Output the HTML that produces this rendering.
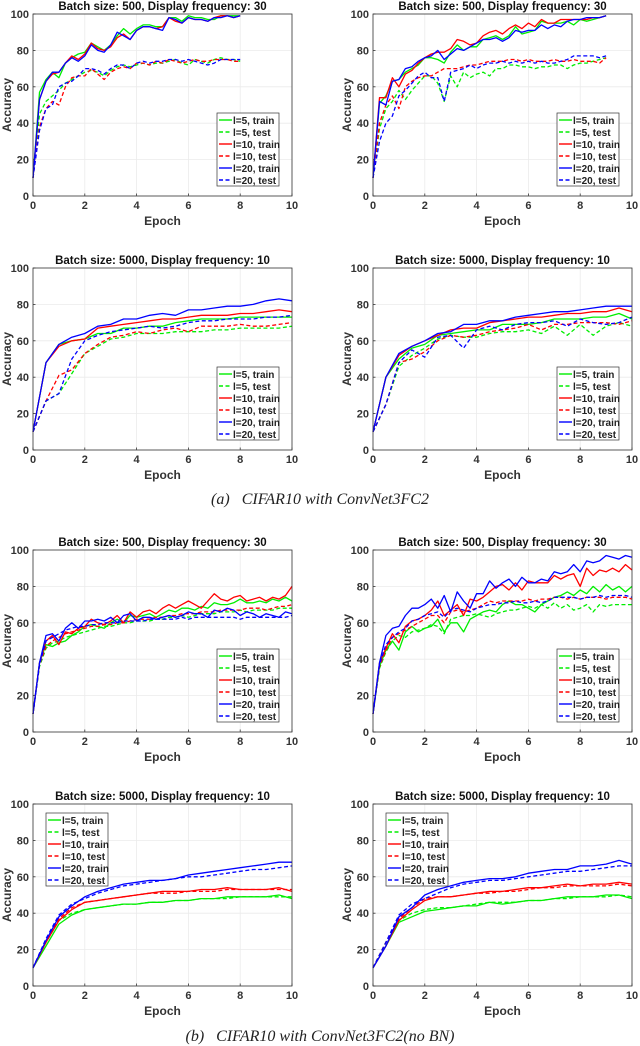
<!DOCTYPE html>
<html><head><meta charset="utf-8"><style>
body{margin:0;background:#fff}
svg{display:block}
text{font-family:"Liberation Sans",sans-serif}
text.cap{font-family:"Liberation Serif",serif;font-style:italic}
</style></head><body>
<svg id="fig" width="640" height="1046" viewBox="0 0 640 1046" xmlns="http://www.w3.org/2000/svg">
<text class="cap" x="320" y="504" text-anchor="middle" font-size="16" fill="#222" xml:space="preserve">(a)   CIFAR10 with ConvNet3FC2</text>
<text class="cap" x="320" y="1041" text-anchor="middle" font-size="16" fill="#222" xml:space="preserve">(b)   CIFAR10 with ConvNet3FC2(no BN)</text>
</svg>
<script>
// ---- data ----
const seriesNames = ["l=5, train","l=5, test","l=10, train","l=10, test","l=20, train","l=20, test"];
const yTicks = [0,20,40,60,80,100];
const xTicks = [0,2,4,6,8,10];
const titleA = "Batch size: 500, Display frequency: 30";
const titleB = "Batch size: 5000, Display frequency: 10";

const aStep = 0.25;
const aG = [10,57,64,68,65,73,76,78,79,84,82,80,83,88,92,89,92,94,94,93,93,98,98,96,99,98,98,97,97,99,99,99,99];
const aGt = [10,45,52,55,58,62,64,66,68,69,68,66,69,71,72,71,72,73,72,73,73,74,75,73,72,75,74,73,75,76,75,75,74];
const aR = [10,53,63,67,68,73,77,75,78,84,81,80,82,87,89,86,91,93,93,92,93,98,96,95,98,97,97,96,98,99,99,98,99];
const aRt = [10,38,48,52,50,60,65,66,66,70,67,64,68,70,71,70,73,73,72,74,73,75,74,73,74,75,74,74,75,75,75,74,74];
const aB = [10,53,63,68,68,73,76,74,77,83,80,79,83,90,88,86,91,93,93,92,91,98,97,95,98,97,97,96,98,98,99,98,99];
const aBt = [10,36,48,50,60,62,63,66,70,70,69,67,70,72,72,70,73,74,73,74,74,75,75,74,75,74,73,72,73,75,75,75,75];

const bStep = 0.25;
const bG = [10,51,55,63,64,68,70,72,76,76,75,73,79,83,80,82,82,86,87,88,86,88,93,89,90,91,96,95,95,95,96,94,97,96,97,98,99];
const bGt = [10,37,48,52,58,53,58,62,66,66,62,52,66,60,68,65,67,68,66,70,70,72,72,71,71,70,71,71,72,72,70,72,73,73,74,75,76];
const bR = [10,54,54,65,60,67,69,73,76,78,79,79,81,86,85,83,84,88,90,91,89,92,94,92,95,93,97,95,95,97,97,97,97,97,98,98,99];
const bRt = [10,40,50,55,48,60,63,65,66,66,68,70,70,70,71,72,72,73,74,74,74,75,75,74,75,74,74,74,75,74,74,75,74,74,74,73,76];
const bB = [10,52,50,63,64,70,71,74,76,77,80,75,78,81,80,82,84,86,86,87,85,87,91,90,91,91,94,92,94,93,96,97,97,98,98,98,99];
const bBt = [10,30,40,44,55,58,62,66,68,65,65,52,68,69,70,72,70,72,73,73,74,73,74,73,74,73,74,73,73,74,75,77,77,77,77,76,77];

const cStep = 0.5;
const cG = [10,48,58,60,61,64,64,67,67,68,68,70,71,72,72,72,73,73,73,73,73];
const cGt = [10,27,31,42,53,57,61,62,64,64,64,65,65,65,66,66,67,67,67,67,68];
const cR = [10,48,57,60,61,67,68,69,70,71,72,72,73,74,74,74,75,75,76,77,76];
const cRt = [10,27,41,44,53,58,62,63,65,64,66,67,65,68,68,68,69,68,68,69,70];
const cB = [10,48,58,62,64,68,69,72,72,74,75,74,77,77,78,79,79,80,82,83,82];
const cBt = [10,27,31,50,60,63,65,66,67,68,67,68,70,71,71,72,72,72,73,73,74];

const dStep = 0.5;
const dG = [10,40,50,56,58,63,64,65,66,66,69,69,69,70,72,72,72,73,73,75,72];
const dGt = [10,25,46,52,56,61,63,62,62,64,65,65,66,64,68,63,69,63,68,70,68];
const dR = [10,40,52,57,60,63,66,67,67,70,71,72,73,73,74,75,75,76,76,78,76];
const dRt = [10,25,48,50,54,60,63,62,63,65,66,67,69,66,69,69,70,70,70,69,71];
const dB = [10,40,53,57,60,64,65,69,69,71,71,73,74,75,76,76,77,78,79,79,79];
const dBt = [10,25,48,55,51,62,63,56,66,68,66,69,70,70,71,68,72,70,69,70,73];

const eStep = 0.25;
const eG = [10,38,48,47,49,50,53,55,58,59,58,57,60,62,60,64,63,64,65,63,65,67,66,68,68,67,69,68,71,70,70,71,73,71,71,72,71,73,72,74,72];
const eGt = [10,36,46,49,50,52,53,54,55,56,57,58,58,59,60,60,61,61,61,62,62,63,63,64,63,64,65,65,65,66,66,66,67,66,67,67,67,67,68,68,68];
const eR = [10,38,50,53,48,55,54,57,58,62,60,59,61,64,60,66,63,66,67,65,68,70,68,70,72,70,68,72,76,73,72,74,75,72,73,74,72,74,73,75,80];
const eRt = [10,37,47,50,52,54,55,56,57,58,58,59,59,60,60,61,62,62,62,63,63,64,64,65,65,65,66,66,66,67,67,67,67,68,68,68,67,68,69,69,70];
const eB = [10,38,53,54,50,57,60,57,61,61,62,61,63,60,64,65,61,63,63,62,63,64,63,64,66,65,65,63,67,66,68,67,64,66,65,63,65,64,63,66,65];
const eBt = [10,37,50,52,54,56,57,58,58,59,59,60,60,60,61,61,61,61,62,62,62,62,62,63,62,63,63,63,63,63,63,63,62,63,63,63,63,63,63,63,64];

const fStep = 0.25;
const fG = [10,36,45,50,45,55,58,55,57,58,62,55,60,60,55,62,64,66,67,66,70,72,70,70,68,66,70,72,74,75,77,75,78,76,80,77,81,78,80,77,80];
const fGt = [10,35,44,50,53,52,55,56,57,59,58,54,62,63,64,64,65,64,63,65,66,67,67,68,69,68,70,68,71,68,70,67,68,70,66,70,69,70,70,70,70];
const fR = [10,38,46,54,49,58,61,62,64,67,72,64,67,70,64,73,72,74,77,80,81,78,82,78,83,82,82,82,86,84,86,87,80,90,86,89,88,90,88,92,89];
const fRt = [10,36,45,52,54,56,58,60,62,64,64,60,66,67,66,67,68,70,72,71,72,72,72,72,73,72,73,73,74,74,73,74,73,74,74,74,73,74,74,74,73];
const fB = [10,38,53,57,58,64,68,68,70,73,68,75,66,77,72,68,76,76,83,79,82,84,80,85,82,82,84,83,88,87,88,92,88,94,93,94,97,96,95,97,96];
const fBt = [10,37,48,52,55,57,61,62,64,65,66,63,67,68,67,66,68,69,70,70,71,71,72,71,71,72,71,72,74,74,74,74,73,74,74,75,74,75,75,75,74];

const gStep = 0.5;
const gG = [10,22,34,39,42,43,44,45,45,46,46,47,47,48,48,49,49,49,49,50,48];
const gGt = [10,24,36,40,42,43,44,45,45,46,46,47,47,48,48,48,49,49,49,49,49];
const gR = [10,24,36,42,46,47,48,49,50,51,52,52,52,53,53,54,53,53,53,54,52];
const gRt = [10,25,37,43,46,47,48,49,50,51,51,51,52,52,52,53,53,53,53,53,53];
const gB = [10,25,38,44,49,52,54,56,57,58,58,59,61,62,63,64,65,66,67,68,68];
const gBt = [10,26,39,45,48,51,53,55,56,57,58,59,60,60,61,62,63,64,64,65,66];

const hStep = 0.5;
const hG = [10,22,35,38,41,42,43,44,44,46,45,46,47,47,48,49,49,49,50,50,48];
const hGt = [10,24,36,40,42,43,43,44,45,46,46,46,47,47,48,48,49,49,49,50,49];
const hR = [10,22,36,42,47,49,49,50,51,52,52,53,54,54,55,56,55,56,56,57,56];
const hRt = [10,24,37,43,48,49,49,50,51,51,52,52,53,54,54,55,55,55,55,56,55];
const hB = [10,22,38,43,50,53,55,57,58,59,59,60,62,63,64,64,66,66,67,69,67];
const hBt = [10,24,39,45,48,51,54,56,57,58,58,59,60,61,62,63,63,64,65,66,66];

// ---- drawing ----
const NS = "http://www.w3.org/2000/svg";
const svg = document.getElementById("fig");
const colors = ["#00ee00","#00ee00","#ff0000","#ff0000","#0000ff","#0000ff"];
function mk(tag, attrs, parent){
  const e = document.createElementNS(NS, tag);
  for (const k in attrs) e.setAttribute(k, attrs[k]);
  (parent||svg).appendChild(e);
  return e;
}
const W = 259, H = 182;
const panels = [
  {id:"a", x0:33, y0:14, title:titleA, step:aStep, s:[aG,aGt,aR,aRt,aB,aBt], leg:"br"},
  {id:"b", x0:373, y0:14, title:titleA, step:bStep, s:[bG,bGt,bR,bRt,bB,bBt], leg:"br"},
  {id:"c", x0:33, y0:268, title:titleB, step:cStep, s:[cG,cGt,cR,cRt,cB,cBt], leg:"br"},
  {id:"d", x0:373, y0:268, title:titleB, step:dStep, s:[dG,dGt,dR,dRt,dB,dBt], leg:"br"},
  {id:"e", x0:33, y0:550, title:titleA, step:eStep, s:[eG,eGt,eR,eRt,eB,eBt], leg:"br"},
  {id:"f", x0:373, y0:550, title:titleA, step:fStep, s:[fG,fGt,fR,fRt,fB,fBt], leg:"br"},
  {id:"g", x0:33, y0:804, title:titleB, step:gStep, s:[gG,gGt,gR,gRt,gB,gBt], leg:"tl"},
  {id:"h", x0:373, y0:804, title:titleB, step:hStep, s:[hG,hGt,hR,hRt,hB,hBt], leg:"tl"}
];
panels.forEach(p => {
  const g = mk("g", {});
  
  
  const xs = v => p.x0 + v / 10 * W;
  const ys = v => p.y0 + H - v / 100 * H;
  xTicks.forEach(t => {
    const l = mk("line", {x1:xs(t), x2:xs(t), y1:p.y0, y2:p.y0+H, stroke:"#ebebeb", "stroke-width":0.8}, g);
    
    
    const tx = mk("text", {x:xs(t), y:p.y0+H+13, "text-anchor":"middle", "font-size":11, "font-weight":"bold", fill:"#333"}, g);
    tx.textContent = t;
    
    
    mk("line", {x1:xs(t), x2:xs(t), y1:p.y0+H, y2:p.y0+H-2.5, stroke:"#333", "stroke-width":0.8}, g);
  });
  yTicks.forEach(t => {
    const l = mk("line", {x1:p.x0, x2:p.x0+W, y1:ys(t), y2:ys(t), stroke:"#ebebeb", "stroke-width":0.8}, g);
    
    
    const tx = mk("text", {x:p.x0-4, y:ys(t)+4, "text-anchor":"end", "font-size":11, "font-weight":"bold", fill:"#333"}, g);
    tx.textContent = t;
    
    
    mk("line", {x1:p.x0, x2:p.x0+2.5, y1:ys(t), y2:ys(t), stroke:"#333", "stroke-width":0.8}, g);
  });
  p.s.forEach((arr, i) => {
    const pts = arr.map((v, k) => xs(k * p.step).toFixed(1) + "," + ys(v).toFixed(1)).join(" ");
    const attrs = {points:pts, fill:"none", stroke:colors[i], "stroke-width":1.3, "stroke-linejoin":"round"};
    if (i % 2 === 1) attrs["stroke-dasharray"] = "4,2.5";
    const pl = mk("polyline", attrs, g);
    
    
  });
  const box = mk("rect", {x:p.x0, y:p.y0, width:W, height:H, fill:"none", stroke:"#333", "stroke-width":0.8}, g);
  
  
  const title = mk("text", {x:p.x0+W/2, y:p.y0-4, "text-anchor":"middle", "font-size":11.5, "font-weight":"bold", fill:"#111"}, g);
  title.textContent = p.title;
  
  
  const xl = mk("text", {x:p.x0+W/2, y:p.y0+H+29, "text-anchor":"middle", "font-size":12, "font-weight":"bold", fill:"#333"}, g);
  xl.textContent = "Epoch";
  
  
  const yl = mk("text", {x:0, y:0, "text-anchor":"middle", "font-size":12, "font-weight":"bold", fill:"#333", transform:"translate(" + (p.x0-22) + "," + (p.y0+H/2) + ") rotate(-90)"}, g);
  yl.textContent = "Accuracy";
  
  
  const lw = 62, lh = 73;
  const lx = p.leg === "br" ? p.x0 + W - 13 - lw : p.x0 + 13;
  const ly = p.leg === "br" ? p.y0 + H - 10 - lh : p.y0 + 9;
  const lg = mk("g", {}, g);
  
  
  mk("rect", {x:lx, y:ly, width:lw, height:lh, fill:"#fff", stroke:"#333", "stroke-width":0.7}, lg);
  seriesNames.forEach((n, i) => {
    const cy = ly + 7 + i * 12;
    const e = mk("g", {}, lg);
    
    
    const la = {x1:lx+2, x2:lx+15, y1:cy, y2:cy, stroke:colors[i], "stroke-width":1.4};
    if (i % 2 === 1) la["stroke-dasharray"] = "4,2.5";
    mk("line", la, e);
    const t = mk("text", {x:lx+16, y:cy+4, "font-size":10, "font-weight":"bold", fill:"#222"}, e);
    t.textContent = n;
  });
});
</script>
</body></html>
